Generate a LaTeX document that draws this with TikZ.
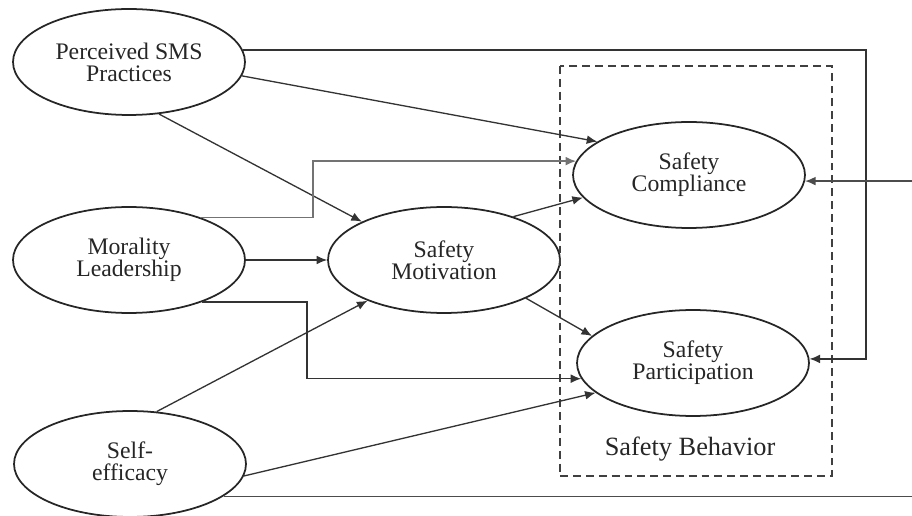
\documentclass[tikz,border=0pt]{standalone}
\usepackage{fontspec}
\setmainfont{Liberation Serif}
\usetikzlibrary{arrows.meta, shapes.geometric}

\begin{document}
\begin{tikzpicture}[x=0.02cm, y=-0.02cm,
  latente/.style={ellipse, draw=black!85, line width=1pt,
    minimum width=4.64cm, minimum height=2.12cm, inner sep=0pt,
    align=center, text=black!85, font=\fontsize{13.5}{12.5}\selectfont},
  seta/.style={-{Latex[length=6pt,width=5pt]}, line width=0.75pt, draw=black!80}]
  \useasboundingbox (0,0) rectangle (912,516);
  \clip (0,0) rectangle (912,516);
  % variaveis latentes
  \node[latente] (pers) at (129,62) {Perceived SMS\\Practices};
  \node[latente] (mor) at (129,260) {Morality\\Leadership};
  \node[latente] (self) at (130,464) {Self-\\efficacy};
  \node[latente] (mot) at (444,260) {Safety\\Motivation};
  \node[latente] (comp) at (689,175) {Safety\\Compliance};
  \node[latente] (part) at (693,363) {Safety\\Participation};
  % caixa do comportamento
  \draw[dash pattern=on 4.5pt off 2.8pt, line width=0.8pt, black!75] (560,66) rectangle (832,476);
  \node[font=\fontsize{15}{15}\selectfont, text=black!85] (rotulo) at (690,449) {Safety Behavior};
  % pontos de dobra
  \coordinate (laco1) at (866,0);
  \coordinate (laco2) at (922,0);
  \coordinate (joelho1) at (313,0);
  \coordinate (joelho2) at (307,0);
  % caminhos
  \draw[seta] (pers.6) -| (laco1 |- part.2) -- (part.2);
  \draw[seta] (pers.-7) -- (comp.160);
  \draw[seta] (pers.-60) -- (mot.155);
  \draw[seta, draw=black!55] (mor.31) -| (joelho1 |- comp.173) -- (comp.173);
  \draw[seta] (mor) -- (mot);
  \draw[seta] (mor.-30) -| (joelho2 |- part.188) -- (part.188);
  \draw[seta] (mot.32) -- (comp.192);
  \draw[seta] (mot.-25) -- (part.165);
  \draw[seta] (self.63) -- (mot.208);
  \draw[seta] (self.-6) -- (part.197);
  \draw[seta, draw=black!70] (self.-19) -| (laco2 |- comp.-3) -- (comp.-3);
\end{tikzpicture}
\end{document}
